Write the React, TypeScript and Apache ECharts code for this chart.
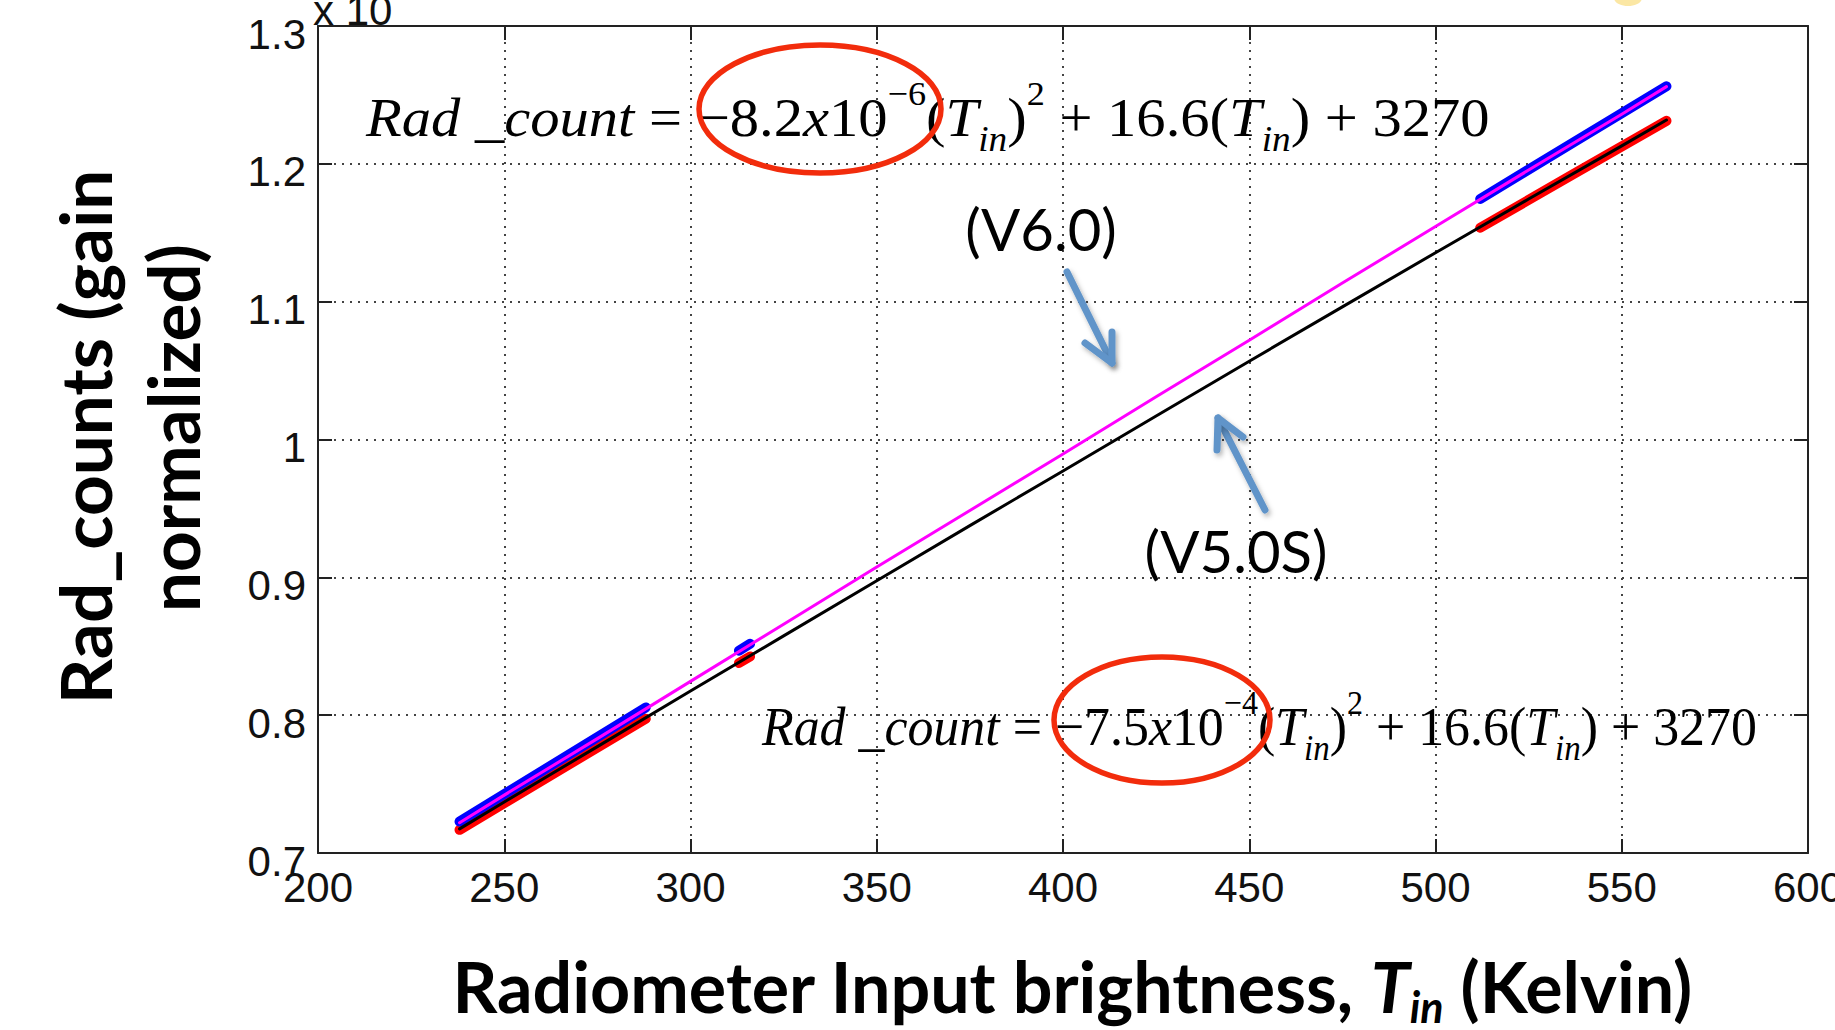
import { useEffect, useRef } from "react";
import * as echarts from "echarts";

// ---- data (counts, axis shown in units of 10^4) ----
const mainTemps = [238, 250, 275, 300, 325, 350, 375, 400, 425, 450, 475, 500, 525, 550, 562];
const v60Counts = [7220, 7420, 7830, 8245, 8660, 9075, 9485, 9895, 10310, 10720, 11135, 11545, 11955, 12360, 12560];
const v50sCounts = [7175, 7370, 7772, 8175, 8575, 8975, 9375, 9772, 10170, 10568, 10962, 11355, 11745, 12130, 12318];

const lowTemps = [238, 263, 288];
const midTemps = [313, 316];
const highTemps = [512, 537, 562];
const blueLow = [7228, 7642, 8056];
const blueMid = [8468, 8518];
const blueHigh = [11745, 12155, 12563];
const redLow = [7168, 7572, 7974];
const redMid = [8378, 8426];
const redHigh = [11536, 11925, 12312];

const xRange = { min: 200, max: 600, step: 50 };
const yRange = { min: 7000, max: 13000, step: 1000 };

const eqTopText =
  "{it|Rad _count}{rm| = −8.2}{it|x}{rm|10}{sup|−6}{rm|(}{it|T}{sub|in}{rm|)}{sup|2}{rm| + 16.6(}{it|T}{sub|in}{rm|) + 3270}";
const eqBottomText =
  "{it|Rad _count}{rm| = −7.5}{it|x}{rm|10}{sup|−4}{rm|(}{it|T}{sub|in}{rm|)}{sup|2}{rm| + 16.6(}{it|T}{sub|in}{rm|) + 3270}";

const AXIS_COLOR = "#222";
const ARROW_COLOR = "#6194c9";
const CIRCLE_COLOR = "#f22c0c";

const pairs = (xs: number[], ys: number[]) => xs.map((x, i) => [x, ys[i]]);

const lineSeries = (name: string, xs: number[], ys: number[], color: string, width: number, z: number) => ({
  type: "line",
  name,
  data: pairs(xs, ys),
  showSymbol: false,
  symbol: "none",
  silent: true,
  z,
  lineStyle: { color, width, cap: "round", join: "round" },
  itemStyle: { color },
});

const serif = "'Liberation Serif', 'Times New Roman', serif";
const eqRich = {
  it: { fontFamily: serif, fontStyle: "italic", fontSize: 55, lineHeight: 80, fill: "#000" },
  rm: { fontFamily: serif, fontSize: 55, lineHeight: 80, fill: "#000" },
  sup: { fontFamily: serif, fontSize: 34, lineHeight: 32, verticalAlign: "top", fill: "#000" },
  sub: { fontFamily: serif, fontStyle: "italic", fontSize: 35, lineHeight: 34, verticalAlign: "bottom", fill: "#000" },
};

const titleFont = "Lato, 'Open Sans', sans-serif";
const labelFont = "'Liberation Sans', Arial, sans-serif";

const baseAxis = {
  axisLine: { show: true, onZero: false, lineStyle: { color: AXIS_COLOR, width: 2 } },
  axisTick: { show: true, inside: true, length: 14, lineStyle: { color: AXIS_COLOR, width: 2 } },
};

const arrowStyle = {
  stroke: ARROW_COLOR,
  fill: "none",
  lineWidth: 7,
  lineCap: "round",
  lineJoin: "round",
  shadowBlur: 5,
  shadowColor: "rgba(0,0,0,0.3)",
  shadowOffsetX: 2,
  shadowOffsetY: 3,
};

const option = {
  animation: false,
  backgroundColor: "#ffffff",
  grid: { left: 318, top: 26, width: 1490, height: 827, outerBoundsMode: "none", containLabel: false },
  xAxis: [
    {
      type: "value",
      min: xRange.min,
      max: xRange.max,
      interval: xRange.step,
      position: "bottom",
      ...baseAxis,
      axisLabel: { fontSize: 42, fontFamily: labelFont, color: "#111", margin: 13 },
      splitLine: { show: true, lineStyle: { type: [2, 6], color: "#444", width: 2 } },
    },
    {
      type: "value",
      min: xRange.min,
      max: xRange.max,
      interval: xRange.step,
      position: "top",
      ...baseAxis,
      axisLabel: { show: false },
      splitLine: { show: false },
    },
  ],
  yAxis: [
    {
      type: "value",
      min: yRange.min,
      max: yRange.max,
      interval: yRange.step,
      position: "left",
      ...baseAxis,
      axisLabel: {
        fontSize: 42,
        fontFamily: labelFont,
        color: "#111",
        margin: 12,
        verticalAlign: "top",
        lineHeight: 16,
        formatter: (v: number) => String(Math.round(v / 100) / 100),
      },
      splitLine: { show: true, lineStyle: { type: [2, 6], color: "#444", width: 2 } },
    },
    {
      type: "value",
      min: yRange.min,
      max: yRange.max,
      interval: yRange.step,
      position: "right",
      ...baseAxis,
      axisLabel: { show: false },
      splitLine: { show: false },
    },
  ],
  series: [
    lineSeries("V5.0S data low", lowTemps, redLow, "#ff0000", 10, 2),
    lineSeries("V5.0S data mid", midTemps, redMid, "#ff0000", 10, 2),
    lineSeries("V5.0S data high", highTemps, redHigh, "#ff0000", 10, 2),
    lineSeries("V6.0 data low", lowTemps, blueLow, "#0000ff", 10, 3),
    lineSeries("V6.0 data mid", midTemps, blueMid, "#0000ff", 10, 3),
    lineSeries("V6.0 data high", highTemps, blueHigh, "#0000ff", 10, 3),
    lineSeries("V5.0S", mainTemps, v50sCounts, "#000000", 3, 4),
    lineSeries("V6.0", mainTemps, v60Counts, "#ff00ff", 3, 5),
  ],
  graphic: {
    elements: [
      {
        type: "ellipse",
        z: 100,
        shape: { cx: 1628, cy: -2, rx: 14, ry: 8 },
        style: { fill: "#fbe7a4" },
      },
      {
        type: "text",
        z: 100,
        x: 313,
        y: 10,
        style: {
          text: "x 10",
          fontSize: 42,
          fontFamily: labelFont,
          fill: "#111",
          align: "left",
          verticalAlign: "middle",
        },
      },
      {
        type: "text",
        z: 100,
        x: 366,
        y: 117,
        scaleX: 1.065,
        style: { text: eqTopText, rich: eqRich, align: "left", verticalAlign: "middle", fill: "#000" },
      },
      {
        type: "text",
        z: 100,
        x: 762,
        y: 726,
        scaleX: 0.943,
        style: { text: eqBottomText, rich: eqRich, align: "left", verticalAlign: "middle", fill: "#000" },
      },
      {
        type: "ellipse",
        z: 101,
        shape: { cx: 820, cy: 109, rx: 121, ry: 64 },
        style: { fill: "none", stroke: CIRCLE_COLOR, lineWidth: 5.5 },
      },
      {
        type: "ellipse",
        z: 101,
        shape: { cx: 1162, cy: 720, rx: 108, ry: 63 },
        style: { fill: "none", stroke: CIRCLE_COLOR, lineWidth: 5.5 },
      },
      {
        type: "text",
        z: 100,
        x: 1041,
        y: 228,
        style: { text: "(V6.0)", fontSize: 58, fontFamily: titleFont, fill: "#000", align: "center", verticalAlign: "middle" },
      },
      {
        type: "text",
        z: 100,
        x: 1236,
        y: 550,
        style: { text: "(V5.0S)", fontSize: 58, fontFamily: titleFont, fill: "#000", align: "center", verticalAlign: "middle" },
      },
      { type: "line", z: 100, shape: { x1: 1067, y1: 272, x2: 1112, y2: 363 }, style: arrowStyle },
      { type: "polyline", z: 100, shape: { points: [[1085, 343], [1112, 363], [1112, 332]] }, style: arrowStyle },
      { type: "line", z: 100, shape: { x1: 1265, y1: 510, x2: 1218, y2: 418 }, style: arrowStyle },
      { type: "polyline", z: 100, shape: { points: [[1217, 450], [1218, 418], [1243, 437]] }, style: arrowStyle },
      {
        type: "text",
        z: 100,
        x: 84,
        y: 437,
        rotation: Math.PI / 2,
        style: {
          text: "Rad_counts (gain",
          fontSize: 71,
          fontWeight: "bold",
          fontFamily: titleFont,
          fill: "#000",
          align: "center",
          verticalAlign: "middle",
        },
      },
      {
        type: "text",
        z: 100,
        x: 172,
        y: 428,
        rotation: Math.PI / 2,
        style: {
          text: "normalized)",
          fontSize: 71,
          fontWeight: "bold",
          fontFamily: titleFont,
          fill: "#000",
          align: "center",
          verticalAlign: "middle",
        },
      },
      {
        type: "text",
        z: 100,
        x: 1072,
        y: 986,
        style: {
          text: "{b|Radiometer Input brightness, }{bi|T}{bs|in}{b| (Kelvin)}",
          align: "center",
          verticalAlign: "middle",
          fill: "#000",
          rich: {
            b: { fontFamily: titleFont, fontWeight: "bold", fontSize: 70, lineHeight: 84, fill: "#000" },
            bi: { fontFamily: titleFont, fontWeight: "bold", fontStyle: "italic", fontSize: 70, lineHeight: 84, fill: "#000" },
            bs: {
              fontFamily: titleFont, fontWeight: "bold", fontStyle: "italic", fontSize: 43,
              lineHeight: 26, verticalAlign: "bottom", fill: "#000",
            },
          },
        },
      },
    ],
  },
};

export default function App() {
  const ref = useRef<HTMLDivElement>(null);
  useEffect(() => {
    if (!ref.current) return;
    const chart = echarts.init(ref.current, null, { renderer: "svg" });
    chart.setOption(option as any);
    return () => chart.dispose();
  }, []);
  return (
    <div
      ref={ref}
      style={{ position: "absolute", left: 0, top: 0, width: 1835, height: 1030, background: "#fff" }}
    />
  );
}
